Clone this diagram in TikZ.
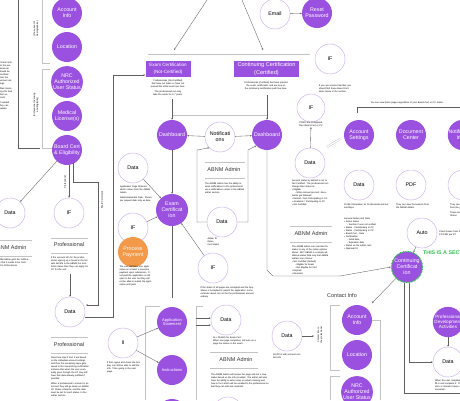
\documentclass[tikz,border=0pt]{standalone}
\usepackage{fontspec}
\setmainfont{Liberation Sans}
\usetikzlibrary{arrows.meta}
\definecolor{purp}{RGB}{155,81,224}
\definecolor{lpurp}{RGB}{205,180,240}
\definecolor{orng}{RGB}{242,153,74}
\definecolor{grn}{RGB}{50,190,80}
\definecolor{lgray}{RGB}{195,195,195}
\definecolor{dgray}{RGB}{95,95,95}
\begin{document}
\begin{tikzpicture}[x=1pt,y=-1pt,
 pc/.style={circle, fill=purp, text=white, minimum size=30pt, inner sep=0pt, align=center, font=\fontsize{5.3}{6}\selectfont},
 wc/.style={circle, draw=lpurp, line width=0.5pt, fill=white, minimum size=30pt, inner sep=0pt, align=center, font=\fontsize{5.3}{6}\selectfont},
 hbox/.style={fill=purp, text=white, align=center, inner sep=1pt},
 tx/.style={font=\fontsize{2.3}{3}\selectfont, align=left, inner sep=0pt, text width=#1},
 ttl/.style={font=\fontsize{5.5}{6}\selectfont, text=black!80, inner sep=0pt},
 conn/.style={draw=dgray, line width=0.35pt, -{Stealth[length=1.8pt,width=1.5pt]}},
 ln/.style={draw=dgray, line width=0.35pt},
 dbl/.style={draw=lgray, line width=0.45pt, double=white, double distance=1.2pt},
 sep/.style={draw=lgray, line width=0.6pt},
 rot/.style={rotate=90, font=\fontsize{2.3}{2.9}\selectfont, align=center, inner sep=0pt}]
\path[use as bounding box, fill=white] (0,0) rectangle (460,400);
\clip (0,0) rectangle (460,400);

% ---------------- left column ----------------
\draw[ln] (18,0) -- (18,148) -- (40,148);
\draw[lgray, line width=0.6pt] (42,0) -- (42,63) -- (50,63);
\draw[lgray, line width=0.6pt] (50,69) -- (42,69) -- (42,148) -- (52,148);
\node[rot] (r1) at (36,29) {(Pre-current of\\Demographics)};
\node[rot] (r2) at (36,105) {(Professional Licensing\\and Eligibility)};
\node[tx=13pt] (lt) at (6,86) {Contact info for the professional should be pre-filled from the account settings.\\[2pt] Their licensing info from their account.\\[2pt] If needed they can update.};

\node[pc] (a1) at (67,13) {Account\\Info};
\node[pc] (a2) at (67,47) {Location};
\node[pc] (a3) at (67,82) {NRC\\Authorized\\User Status};
\node[pc] (a4) at (67,116) {Medical\\License(s)};
\node[pc] (a5) at (67,150) {Board Cert\\\& Eligibility};

\node[wc] (dt6) at (10,213) {Data};
\node[wc] (if5) at (69,213) {IF};
\draw[conn] (a5) -- (dt6);
\draw[conn] (a5.south) ++(2,0) -- (if5);
\node[rot] (r3) at (65,182) {Professional};
\draw[conn] (a5.south) ++(6,-2) -- (73,182) -- (98,182) -- (98,305) -- (86,305);
\node[rot] (r4) at (102,200) {Board Cert status};

\draw[sep] (-5,240) -- (32,240);
\node[ttl] (adm1) at (10,248) {ABNM Admin};
\draw[sep] (-5,256) -- (32,256);
\node[tx=32pt] (adt1) at (13,263) {ABNM Admin gets the notification that it needs to be Certified to Professional.};

\draw[sep] (51,238) -- (88,238);
\node[ttl] (pr1) at (69,245) {Professional};
\draw[sep] (51,253) -- (88,253);
\node[tx=38pt] (prt1) at (70,264) {If the account info for the professional signing up is found in the list with AB NM is the ABNM the Institution status then they can apply for CC for the cert.};
\node[wc] (dt7) at (70,312) {Data};
\draw[conn] (prt1.south) ++(0,3) -- (dt7);

\draw[sep] (51,337) -- (88,337);
\node[ttl] (pr2) at (69,345) {Professional};
\draw[sep] (51,353) -- (88,353);
\node[tx=38pt, anchor=north] (prt2) at (70,357) {Data from step 2 and 3 are based on the individual account settings, and then the remaining steps gets saved to the overarching certification instance that when the user eventually goes through the ET they will have that data already prefilled if possible.\\[2pt] When a professional's account is an account they will go down an ABNM CC Status Lifecycle, and the data must be set for each status, to the admin section.};

% ---------------- Exam certification column ----------------
\draw[conn] (207,0) -- (174,50);
\draw[conn] (242,0) -- (263,50);
\draw[sep] (148,54) -- (310,54);

\node[hbox, minimum width=45pt, minimum height=16pt, font=\fontsize{4.6}{7}\selectfont] (eb) at (168,69) {Exam Certification\\(Not-Certified)};
\node[hbox, minimum width=65pt, minimum height=16pt, font=\fontsize{5.6}{8}\selectfont] (cb) at (266.5,69) {Continuing Certification\\(Certified)};
\node[tx=45pt, align=center] (et) at (168,88) {Professionals (Not-Certified) that have not taken or have not passed the initial exam live here.\\[2pt]The professional can only take the exam 3x in 7 years.};
\node[tx=62pt, align=center] (ct) at (266,86) {Professionals (Certified) that have passed the exam certification and are now on the continuing certification path live here.};

\draw[conn] (dt7.east) ++(0,5) -- (113,317) -- (113,75) -- (eb.west |- 0,75);

\node[pc] (d1) at (172,135) {Dashboard};
\node[pc] (d2) at (267,135) {Dashboard};
\node[wc] (nt) at (220,137) {Notificati\\ons};
\draw[sep] (172,115) -- (267,115);
\draw[conn] (et.south -| d1) ++(0,3) -- (d1.north);
\draw[conn] (ct.south -| d2) ++(0,5) -- (d2.north);
\draw[conn] (nt) -- (d1);
\draw[conn] (nt) -- (d2);

\draw[sep] (205,162) -- (245,162);
\node[ttl] (adm2) at (224,170) {ABNM Admin};
\draw[sep] (205,178) -- (245,178);
\node[tx=40pt, anchor=north] (adt2) at (225,183) {The ABNM Admin has the ability to send notifications to the professional via a notifications center in the ABNM admin section.};

\node[wc] (dt1) at (133,168) {Data};
\node[tx=32pt, anchor=north] (dtt1) at (136,186) {Application Page Statuses which comes from the ABNM Admin.\\[2pt]Admin/status/Set Date. Shows per request date only as date.};
\node[pc, minimum size=32pt] (ec) at (172,210) {Exam\\Certificat\\ion};
\node[wc] (if3) at (133,228) {IF};
\node[pc, fill=orng] (pp) at (133,252) {Process\\Payment};
\node[tx=33pt, anchor=north] (ppt) at (136,266) {The user will have one application on at least a one-time payment upon submission. If not paid the application is still open to the user but they will not be able to submit the application until paid.};
\draw[conn] (d1) -- (ec);
\draw[conn] (dt1) -- (ec);
\draw[conn] (if3) -- (ec);

\node[wc] (dt2) at (222,222) {Data};
\node[tx=25pt, anchor=north] (dtt2) at (220,238) {Admin ID\\Dates\\Cert Status};
\draw[conn] (dt2.west) -- (197,222) -- (197,150) -- (nt.south west);
\draw[conn] (dt2.east) -- (248,222) -- (248,150) -- (d2.south west);

\node[wc] (if4) at (213,268) {IF};
\node[tx=55pt, anchor=north] (ift4) at (228,287) {If the status of all pages are Accepted and the App Status is Accepted to submit the application, some reminder about can not be the professional account entirely.};
\draw[conn] (if4) -- (ec);

\draw[ln] (ec.south) -- (172,298);
\draw[lgray, line width=0.6pt] (160,306) -- (145,306) -- (145,400);
\draw[lgray, line width=0.6pt] (203,306) -- (196,306) -- (196,400);
\node[pc, font=\fontsize{4}{4.6}\selectfont] (as) at (172,322) {Application\\Statement};
\node[pc, font=\fontsize{4}{4.6}\selectfont] (in) at (172,370) {Instructions};
\node[pc] (b0) at (172,414) {};
\node[wc] (ii) at (123,343) {II};
\node[tx=34pt, anchor=north] (iit) at (124,362) {If then agree and check the box they can still be able to edit the info. Then going to the next page.};
\draw[conn] (ii) -- (as);
\draw[conn] (ii) -- (in);

\node[wc] (dt3) at (226,320) {Data};
\draw[conn] (196,318) -- (dt3.west |- 0,318);
\draw[conn] (196,325) -- (dt3.west |- 0,325);
\node[tx=48pt, anchor=north] (dtt3) at (237,337) {ALL PAGES for Exam Cert:\\When one page completes, will auto on a page the status on the exam.};
\draw[sep] (210,352) -- (258,352);
\node[ttl] (adm3) at (236,360) {ABNM Admin};
\draw[sep] (210,368) -- (258,368);
\node[tx=58pt, anchor=north] (adt3) at (240,374) {The ABNM Admin will review the page and set a new status based on the info provided. The admin will also have the ability to write notes on what's missing and how to fix it which will be emailed to the professional so that they can edit and resubmit.};
\node[wc] (dt5) at (228,412) {};

% ---------------- Continuing certification column ----------------
\node[wc] (em) at (275,14) {Email};
\node[pc] (rp) at (317,13) {Reset\\Password};
\draw[conn] (em) -- (rp);

\node[wc] (if1) at (330,59) {IF};
\node[tx=34pt, anchor=north] (ift1) at (336,85) {If you are a board member you should find these Board Cert items below in the section.};
\node[wc, minimum size=28pt] (if2) at (311,108) {IF};
\node[tx=30pt, align=center, anchor=north] (ift2) at (311,122) {If NRC are Completed, then Board Cert or CC};
\node[wc] (dt8) at (310,163) {Data};
\draw[conn] (dt8) -- (ift2);
\draw[dbl] (327,147) -- (340,139);
\node[tx=40pt, anchor=north] (dtt8) at (312,180) {Account status by default is set to Not Certified. The professional can change their status to:\\
• Eligible\\
\hspace*{3pt}◦ When Annual pre-test: documents get followed\\
• Retired / Non Participating in CC\\
• Academic / Participating in CC\\
• Not Certified};
\draw[sep] (290,226) -- (332,226);
\node[ttl] (adm4) at (311,234) {ABNM Admin};
\draw[sep] (290,242) -- (332,242);
\node[tx=40pt, anchor=north] (adt4) at (312,246) {The ABNM admin can override the status to any of the status options above. BUT ABNM is a simple additional status field only that ABNM admins can choose:\\
• Not Certified (Default)\\
\hspace*{3pt}◦ Eligible for Exam\\
\hspace*{3pt}◦ Not Eligible for Cert\\
• Expired\\
• Revoked};

\node[pc, draw=grn, line width=1.3pt, dash pattern=on 0.8pt off 0.8pt, minimum size=31pt] (cc) at (407,267) {Continuing\\Certificat\\ion};
\draw[conn] (d2.south) -- (267,270) -- (273,276) -- (340,276) -- (cc.west);

\node[wc] (dt4) at (287,336) {Data};
\node[tx=30pt, anchor=north] (dtt4) at (288,354) {Pre-fill in with account contact info};
\draw[conn] (dt4) -- (314,336);
\node[rot] (r5) at (320,335) {Contact Info to\\the professional};
\draw[lgray, line width=0.6pt] (340,305) -- (330,305) -- (330,370) -- (340,370);
\draw[lgray, line width=0.6pt] (340,376) -- (330,376) -- (330,400);

\node[ttl] (ci) at (342,296) {Contact Info};
\node[pc] (b1) at (357,320) {Account\\Info};
\node[pc] (b2) at (357,355) {Location};
\node[pc] (b3) at (357,392) {NRC\\Authorized\\User Status};
\draw[conn] (cc) -- (372,303);
\draw[lgray, line width=0.6pt] (b1.east) -- (380,320) -- (380,400);

% ---------------- right section ----------------
\node[tx=95pt] (vt) at (418,103) {You can view these pages regardless of your Board Cert or CC status.};
\draw[ln] (357,113) -- (357,107) -- (470,107);
\node[pc] (acs) at (359,135) {Account\\Settings};
\node[pc] (dc) at (411,135) {Document\\Center};
\node[pc] (n3) at (463,135) {Notifications\\Inbox};
\node[wc] (dt9) at (359,185) {Data};
\node[wc] (pdf) at (411,185) {PDF};
\node[wc] (c3) at (463,185) {IF};
\draw[dbl] (acs) -- (dt9);
\draw[dbl] (dc) -- (pdf);
\node[tx=48pt, anchor=north west] (dtt9) at (344,204) {Profile Information for Professional and admin/Reps};
\node[tx=48pt, anchor=north west] (dtl9) at (344,218) {General Status and Data\\
• Active status\\
\hspace*{3pt}◦ Inactive if user not verified\\
• Status - Participating in CC\\
• Status - Participating in CC\\
• Board Cert - Date\\
• Certification\\
\hspace*{3pt}◦ Initial date\\
\hspace*{3pt}◦ Expiration date\\
• Status as the admin sets\\
• Diplomat ID};
\node[tx=34pt, anchor=north west] (pdft) at (396,204) {They can view Documents from the ABNM Admin.};
\node[tx=30pt, anchor=north west] (c3t) at (450,204) {They can see notifications from the professional\\[2pt]These are things like ... Cert Status};
\node[wc] (au) at (422,233) {Auto};
\node[tx=40pt, anchor=west] (aut) at (439,233) {Check boxes from the ABNM admin CC/CME per ET};
\draw[conn] (au) -- (cc);
\node[font=\bfseries\fontsize{5.3}{6}\selectfont, text=grn, anchor=west, inner sep=0pt] (sect) at (423,253) {THIS IS A SECTION};

\draw[dbl] (cc.east |- 0,262) -- (470,262);
\node[pc, font=\fontsize{4.6}{5.2}\selectfont] (pd) at (448,322) {Professional\\Development\\Activities};
\node[wc] (dt10) at (448,362) {Data};
\draw[conn] (pd) -- (dt10);
\node[tx=40pt, anchor=north] (dtt10) at (455,380) {When the user completes it, must be fill in and complete it. They can add docs or remarks hence admin must be accepted...};
\draw[ln] (404,283) -- (404,393) -- (470,393);
\draw[conn] (409,283) -- (409,362) -- (dt10.west);
\end{tikzpicture}
\end{document}
